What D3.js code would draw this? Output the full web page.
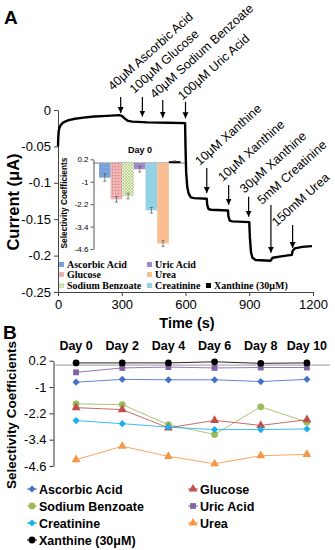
<!DOCTYPE html>
<html><head><meta charset="utf-8">
<script src="https://cdn.jsdelivr.net/npm/d3@7"></script>
<style>body{margin:0;background:#fff}svg{display:block;font-family:Arial,"Liberation Sans",sans-serif}</style>
</head><body><svg id="c" width="335" height="550"></svg>
<script>
// ---------- DATA: panel A (amperometric trace) ----------
const traceTime = [0,1,3,6,12,25,50,80,120,170,230,290,300,315,330,350,420,520,598,600,603,608,615,625,640,700,702,708,720,800,802,808,820,900,903,908,915,930,1000,1010,1050,1100,1105,1115,1150,1195];
const traceCurrent = [-0.05,-0.04,-0.03,-0.025,-0.021,-0.017,-0.014,-0.012,-0.0105,-0.009,-0.008,-0.007,-0.008,-0.012,-0.015,-0.016,-0.017,-0.0175,-0.018,-0.05,-0.085,-0.105,-0.115,-0.12,-0.121,-0.122,-0.13,-0.136,-0.137,-0.138,-0.146,-0.152,-0.153,-0.154,-0.175,-0.195,-0.203,-0.206,-0.207,-0.203,-0.201,-0.199,-0.193,-0.19,-0.188,-0.187];
const annLabels = ["40μM Ascorbic Acid","100μM Glucose","40μM Sodium Benzoate","100μM Uric Acid","10μM Xanthine","10μM Xanthine","30μM Xanthine","5mM Creatinine","150mM Urea"];
const annTime = [295,397,493,600,700,803,897,1002,1104];
const annTail = [0.018,0.018,0.0137,0.0114,-0.0797,-0.103,-0.119,-0.1305,-0.158];
const annTip = [-0.004,-0.009,-0.0105,-0.0114,-0.114,-0.130,-0.1466,-0.196,-0.1896];
const yTicksA = [0,-0.05,-0.1,-0.15,-0.2,-0.25];
const xTicksA = [0,300,600,900,1200];

// ---------- DATA: selectivity coefficients ----------
const series = ["Ascorbic Acid","Glucose","Sodium Benzoate","Uric Acid","Creatinine","Urea","Xanthine (30μM)"];
const days = ["Day 0","Day 2","Day 4","Day 6","Day 8","Day 10"];
const ascorbicAcid = [-0.78,-0.65,-0.67,-0.67,-0.75,-0.65];
const glucose = [-1.94,-2.03,-2.86,-2.52,-2.75,-2.49];
const sodiumBenzoate = [-1.77,-1.8,-2.72,-3.16,-1.9,-2.6];
const uricAcid = [-0.33,-0.13,-0.09,-0.13,-0.11,-0.11];
const creatinine = [-2.53,-2.67,-2.83,-2.94,-2.94,-2.91];
const urea = [-4.31,-3.7,-4.16,-4.5,-4.13,-4.07];
const xanthine = [0.1,0.1,0.1,0.15,0.08,0.1];
const day0Error = [0.2,0.15,0.15,0.15,0.15,0.15,0.02];
const yTicksB = [0.2,-1,-2.2,-3.4,-4.6];

// ---------- STYLE ----------
const lineColors = ["#4472c4","#c0504d","#9bbb59","#8064a2","#1ab0f0","#f79646","#000000"];
const barColors = ["#7fa6dc","#eaa7a7","#d6e8b4","#a089c8","#93d2e4","#f9bf92","#000000"];
const shapes = ["diamond","triangle","circle","square","diamond","triangle","circle"];
const allVals = [ascorbicAcid,glucose,sodiumBenzoate,uricAcid,creatinine,urea,xanthine];

const svg = d3.select("#c");
const defs = svg.append("defs");
const pG = defs.append("pattern").attr("id","pGlu").attr("width",3).attr("height",3).attr("patternUnits","userSpaceOnUse");
pG.append("rect").attr("width",3).attr("height",3).attr("fill","#efb6b6");
pG.append("circle").attr("cx",1.5).attr("cy",1.5).attr("r",0.7).attr("fill","#d47f7f");
const pS = defs.append("pattern").attr("id","pSB").attr("width",3).attr("height",3).attr("patternUnits","userSpaceOnUse");
pS.append("rect").attr("width",3).attr("height",3).attr("fill","#eaf3d8");
pS.append("path").attr("d","M0,0L3,3M3,0L0,3").attr("stroke","#a9c97a").attr("stroke-width",0.7);
const pA = defs.append("pattern").attr("id","pAA").attr("width",2).attr("height",2).attr("patternUnits","userSpaceOnUse");
pA.append("rect").attr("width",2).attr("height",2).attr("fill","#7fa6dc");
pA.append("rect").attr("width",1).attr("height",1).attr("fill","#6d97d2");
const barFill = ["url(#pAA)","url(#pGlu)","url(#pSB)",barColors[3],barColors[4],barColors[5],barColors[6]];

defs.append("marker").attr("id","arr").attr("viewBox","0 0 10 10").attr("refX",10).attr("refY",5)
  .attr("markerWidth",6).attr("markerHeight",7).attr("markerUnits","userSpaceOnUse").attr("orient","auto")
  .append("path").attr("d","M0,0L10,5L0,10Z").attr("fill","#000");

// ---------- PANEL A ----------
const xA = d3.scaleLinear([0,1200],[58,313]);
const yA = d3.scaleLinear([0,-0.25],[110,292]);

svg.append("text").attr("x",4).attr("y",24).attr("font-size",19).attr("font-weight","bold").text("A");

const gyA = svg.append("g").attr("transform","translate(58,0)")
  .call(d3.axisLeft(yA).tickValues(yTicksA).tickSize(4).tickSizeOuter(0).tickFormat(d=>String(d)));
const gxA = svg.append("g").attr("transform","translate(0,292)")
  .call(d3.axisBottom(xA).tickValues(xTicksA).tickSize(4).tickSizeOuter(0).tickFormat(d=>String(d)));
[gyA,gxA].forEach(g=>{g.selectAll("text").attr("font-size",13).attr("fill","#000").attr("font-family","Arial, Liberation Sans, sans-serif");
  g.selectAll("line,path").attr("stroke","#444");});
gyA.selectAll("text").attr("x",-7);
gxA.selectAll("text").attr("y",8);

svg.append("text").attr("transform","translate(19,202) rotate(-90)").attr("text-anchor","middle")
  .attr("font-size",16.5).attr("font-weight","bold").text("Current (μA)");
svg.append("text").attr("x",187).attr("y",328).attr("text-anchor","middle")
  .attr("font-size",14.5).attr("font-weight","bold").text("Time (s)");

svg.append("path").datum(traceTime.map((t,i)=>[t,traceCurrent[i]]))
  .attr("fill","none").attr("stroke","#000").attr("stroke-width",2.4).attr("stroke-linejoin","round")
  .attr("d",d3.line().x(d=>xA(d[0])).y(d=>yA(d[1])));

const labelShift = [[-8,-6],[-8,-3],[-8,-1],[-3,-1],[-7,-2],[-6,-3],[-4,-3],[-9,0],[-16,2]];
annTime.forEach((t,i)=>{
  svg.append("line").attr("x1",xA(t)).attr("x2",xA(t)).attr("y1",yA(annTail[i])).attr("y2",yA(annTip[i]))
    .attr("stroke","#000").attr("stroke-width",1.2).attr("marker-end","url(#arr)");
  svg.append("text").attr("transform",`translate(${xA(t)+labelShift[i][0]},${yA(annTail[i])+labelShift[i][1]}) rotate(-42)`)
    .attr("font-size",12.5).text(annLabels[i]);
});

// ---------- INSET ----------
const yI = d3.scaleLinear([0.2,-4.6],[159.3,249]);
const xI = d3.scaleBand(series,[99,180.5]);
const gyI = svg.append("g").attr("transform","translate(93.5,0)")
  .call(d3.axisLeft(yI).tickValues(yTicksB).tickSize(3).tickSizeOuter(0).tickFormat(d=>String(d)));
gyI.selectAll("text").attr("font-size",8).attr("fill","#000").attr("x",-5);
gyI.selectAll("line,path").attr("stroke","#555");
svg.append("line").attr("x1",93.5).attr("x2",185).attr("y1",yI(0)).attr("y2",yI(0)).attr("stroke","#555").attr("stroke-width",0.8);
const day0 = allVals.map(a=>a[0]);
series.forEach((s,i)=>{
  const v = day0[i];
  svg.append("rect").attr("x",xI(s)).attr("width",xI.bandwidth()).attr("y",yI(Math.max(0,v))).attr("height",Math.abs(yI(v)-yI(0)))
    .attr("fill",barFill[i]);
  const cx = xI(s)+xI.bandwidth()/2;
  const e = day0Error[i];
  const g = svg.append("g").attr("stroke","#555").attr("stroke-width",0.7);
  g.append("line").attr("x1",cx).attr("x2",cx).attr("y1",yI(v+e)).attr("y2",yI(v-e));
  g.append("line").attr("x1",cx-1.5).attr("x2",cx+1.5).attr("y1",yI(v+e)).attr("y2",yI(v+e));
  g.append("line").attr("x1",cx-1.5).attr("x2",cx+1.5).attr("y1",yI(v-e)).attr("y2",yI(v-e));
});
svg.append("text").attr("x",140).attr("y",153).attr("text-anchor","middle").attr("font-size",9).attr("font-weight","bold").text(days[0]);
svg.append("text").attr("transform","translate(67,203) rotate(-90)").attr("text-anchor","middle")
  .attr("font-size",8.3).attr("font-weight","bold").text("Selectivity Coefficients");

const insetLeg = [[0,59,268],[3,147,268],[1,59,278],[5,147,278],[2,59,289],[4,147,289],[6,206,289]];
insetLeg.forEach(([i,x,y])=>{
  svg.append("rect").attr("x",x).attr("y",y-6).attr("width",5).attr("height",5).attr("fill",barFill[i]);
  svg.append("text").attr("x",x+8).attr("y",y).attr("font-family","'Liberation Serif','Times New Roman',serif")
    .attr("font-weight","bold").attr("font-size",10).text(series[i]);
});

// ---------- PANEL B ----------
svg.append("text").attr("x",3).attr("y",339).attr("font-size",19).attr("font-weight","bold").text("B");
const xB = d3.scaleBand(days,[53,330]);
const yB = d3.scaleLinear([0.2,-4.6],[360.7,466]);
const gyB = svg.append("g").attr("transform","translate(53.5,0)")
  .call(d3.axisLeft(yB).tickValues(yTicksB).tickSize(4).tickSizeOuter(0).tickFormat(d=>String(d)));
gyB.selectAll("text").attr("font-size",13).attr("fill","#000").attr("x",-7);
gyB.selectAll("line,path").attr("stroke","#333");
svg.append("line").attr("x1",53.5).attr("x2",330).attr("y1",yB(0)).attr("y2",yB(0)).attr("stroke","#999").attr("stroke-width",1);
svg.selectAll(".dayLab").data(days).join("text").attr("class","dayLab")
  .attr("x",d=>xB(d)+xB.bandwidth()/2).attr("y",350).attr("text-anchor","middle")
  .attr("font-size",12.5).attr("font-weight","bold").text(d=>d);
svg.append("text").attr("transform","translate(16,415) rotate(-90)").attr("text-anchor","middle")
  .attr("font-size",13.5).attr("font-weight","bold").text("Selectivity Coefficients");

function sym(shape){
  if(shape==="diamond") return {p:d3.symbol(d3.symbolSquare,26)(),r:45};
  if(shape==="triangle") return {p:d3.symbol(d3.symbolTriangle,34)(),r:0};
  if(shape==="square") return {p:d3.symbol(d3.symbolSquare,34)(),r:0};
  return {p:d3.symbol(d3.symbolCircle,36)(),r:0};
}
const drawOrder = [2,1,4,5,0,3,6];
drawOrder.forEach(i=>{
  const vals = allVals[i];
  const pts = days.map((d,j)=>[xB(d)+xB.bandwidth()/2,yB(vals[j])]);
  svg.append("path").attr("d",d3.line()(pts)).attr("fill","none").attr("stroke",lineColors[i]).attr("stroke-width",1).attr("opacity",0.85);
  const s = sym(shapes[i]);
  pts.forEach(p=>svg.append("path").attr("d",s.p).attr("fill",lineColors[i])
    .attr("transform",`translate(${p[0]},${p[1]}) rotate(${s.r})`));
});

const legB = [[0,32,489],[1,193,489],[2,32,506],[3,193,506],[4,32,523],[5,193,523],[6,32,540]];
legB.forEach(([i,x,y])=>{
  svg.append("line").attr("x1",x-5).attr("x2",x+5).attr("y1",y).attr("y2",y).attr("stroke",lineColors[i]).attr("stroke-width",1);
  const s = sym(shapes[i]);
  svg.append("path").attr("d",s.p).attr("fill",lineColors[i]).attr("transform",`translate(${x},${y}) rotate(${s.r})`);
  svg.append("text").attr("x",x+7).attr("y",y+4.5).attr("font-size",12.5).attr("font-weight","bold").text(series[i]);
});
</script></body></html>
